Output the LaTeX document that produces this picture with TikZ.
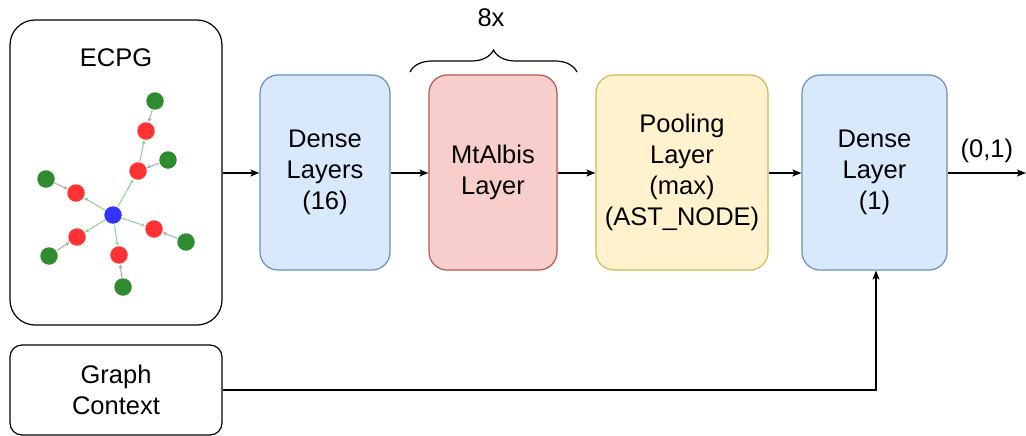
\documentclass[tikz,border=0pt]{standalone}
\usepackage{fontspec}
\setmainfont{Liberation Sans}
\usetikzlibrary{arrows.meta,decorations.pathreplacing}
\definecolor{blueF}{HTML}{DAE8FC}\definecolor{blueS}{HTML}{6C8EBF}
\definecolor{redF}{HTML}{F8CECC}\definecolor{redS}{HTML}{B85450}
\definecolor{yelF}{HTML}{FFF2CC}\definecolor{yelS}{HTML}{D6B656}
\definecolor{gRed}{HTML}{FF3333}\definecolor{gGreen}{HTML}{2E8B2E}
\definecolor{gBlue}{HTML}{3333FF}\definecolor{eGreen}{HTML}{8FD08F}
\definecolor{eGray}{HTML}{AAAAAA}
\tikzset{
  txt/.style={font=\fontsize{25.5}{31}\selectfont},
  box/.style={draw, line width=1.2pt, align=center, inner sep=0pt, txt},
  layer/.style={box, rounded corners=18pt, minimum height=195pt},
  flow/.style={line width=1.2pt, -{Stealth[length=9pt,width=7pt,inset=2pt]}},
  gnode/.style={circle, inner sep=0pt, minimum size=17.5pt},
  gedge/.style={line width=1pt, -{Stealth[length=4pt,width=4pt]}, shorten <=0.5pt, shorten >=0.5pt},
}
\begin{document}
\begin{tikzpicture}[x=1pt,y=-1pt]
\useasboundingbox (0,0) rectangle (1026,436);

% input panels
\node[box, rounded corners=25pt, minimum width=212pt, minimum height=305pt] (ecpg) at (116,172.5) {};
\node[txt] (ecpgt) at (116,58) {ECPG};
\node[box, rounded corners=12pt, minimum width=212pt, minimum height=90pt] (ctx) at (116,390) {Graph\\Context};

% small example graph
\node[gnode, fill=gBlue] (c) at (113,215) {};
\foreach \n/\x/\y in {r1/146/131, r2/138/171, r3/76/193, r4/77/237, r5/119/255, r6/154/229}
  \node[gnode, fill=gRed] (\n) at (\x,\y) {};
\foreach \n/\x/\y in {g1/155/101, g2/168/160, g3/46/179, g4/49/256, g5/123/287, g6/186/242}
  \node[gnode, fill=gGreen] (\n) at (\x,\y) {};
\foreach \r in {r2,r3,r4,r5,r6}
  \draw[gedge, eGreen] (c) -- (\r);
\draw[gedge, eGreen] (r2) -- (r1);
\foreach \g/\r in {g1/r1, g2/r2, g3/r3, g4/r4, g5/r5, g6/r6}
  \draw[gedge, eGray] (\g) -- (\r);

% layers
\node[layer, fill=blueF, draw=blueS, minimum width=130pt] (d16) at (325,172.5) {Dense\\Layers\\(16)};
\node[layer, fill=redF, draw=redS, minimum width=128pt] (mt) at (493,172.5) {MtAlbis\\Layer};
\node[layer, fill=yelF, draw=yelS, minimum width=172pt] (pool) at (682,172.5) {Pooling\\Layer\\(max)\\(AST\_NODE)};
\node[layer, fill=blueF, draw=blueS, minimum width=145pt] (d1) at (874.5,172.5) {Dense\\Layer\\(1)};
\coordinate (out) at (1026,173);

% repetition brace
\draw[line width=1.2pt, decorate, decoration={brace, amplitude=22pt}] (410,72) -- (577,72);
\node[txt] (rep) at (491,18) {8x};

% connections
\draw[flow] (ecpg.east |- 0,173) -- (d16.west |- 0,173);
\draw[flow] (d16.east |- 0,173) -- (mt.west |- 0,173);
\draw[flow] (mt.east |- 0,173) -- (pool.west |- 0,173);
\draw[flow] (pool.east |- 0,173) -- (d1.west |- 0,173);
\draw[flow] (d1.east |- 0,173) -- node[above=6pt, txt] (lbl) {(0,1)} (out);
\draw[flow] (ctx.east) -- (876,390) -- (876,270.5);
\end{tikzpicture}
\end{document}
